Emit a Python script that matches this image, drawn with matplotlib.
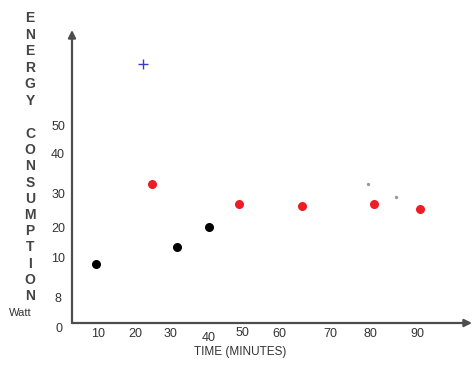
import numpy as np
import matplotlib
matplotlib.use("Agg")
import matplotlib.pyplot as plt

plt.rcParams['font.family'] = ['Liberation Sans', 'DejaVu Sans']

# ---- data ----
black_x = [9.4, 31.6, 40.0]
black_y = [9.7, 13.5, 20.1]
red_x = [24.6, 49.0, 64.6, 80.9, 90.6]
red_y = [32.3, 26.7, 26.3, 26.8, 25.4]
blue_x = [22.1]
blue_y = [70.9]
gray_x = [79.4, 85.6]
gray_y = [32.3, 28.8]

x_ticks = [10, 20, 30, 40, 50, 60, 70, 80, 90]
x_labels = ["10", "20", "30", "40", "50", "60", "70", "80", "90"]
y_ticks = [8, 10, 20, 30, 40, 50]
y_labels = ["8", "10", "20", "30", "40", "50"]
x_title = "TIME (MINUTES)"
y_word1 = "ENERGY"
y_word2 = "CONSUMPTION"
unit_label = "Watt"

# ---- layout (hand-drawn irregular scale anchors, in pixels) ----
W, H = 476, 365
X_ANCHOR_PX = [98, 135, 171, 209, 242, 279, 330, 370, 417]
X_LABEL_DY = [0, 0, 0, 2.5, -1, 0, 0, 0, 0]   # points, downward
Y_ANCHOR_VAL = [0, 8, 10, 20, 30, 40, 50]
Y_ANCHOR_PX = [323, 297, 258, 227, 193, 154, 125]
AX_LEFT, AX_RIGHT, AX_BOTTOM, AX_TOP = 72, 472, 323, 30


def piecewise(xp, fp):
    xp = np.asarray(xp, float)
    fp = np.asarray(fp, float)

    def f(x):
        x = np.asarray(x, float)
        y = np.interp(x, xp, fp)
        y = np.where(x < xp[0], fp[0] + (x - xp[0]) * (fp[1] - fp[0]) / (xp[1] - xp[0]), y)
        y = np.where(x > xp[-1], fp[-1] + (x - xp[-1]) * (fp[-1] - fp[-2]) / (xp[-1] - xp[-2]), y)
        return y
    return f


xf = piecewise(x_ticks, X_ANCHOR_PX)
xi = piecewise(X_ANCHOR_PX, x_ticks)
ypx = [-p for p in Y_ANCHOR_PX]
yf = piecewise(Y_ANCHOR_VAL, ypx)
yi = piecewise(ypx, Y_ANCHOR_VAL)

fig = plt.figure(figsize=(W / 100, H / 100), dpi=100)
ax = fig.add_axes([AX_LEFT / W, (H - AX_BOTTOM) / H,
                   (AX_RIGHT - AX_LEFT) / W, (AX_BOTTOM - AX_TOP) / H])
ax.set_xscale('function', functions=(xf, xi))
ax.set_yscale('function', functions=(yf, yi))
ax.set_xlim(float(xi(AX_LEFT)), float(xi(AX_RIGHT)))
ax.set_ylim(0, float(yi(-AX_TOP)))
for s in ax.spines.values():
    s.set_visible(False)
ax.patch.set_alpha(0)

axis_col = '#4d4d4d'
txt_col = '#333333'
ax.annotate('', xy=(1, 0), xytext=(0, 0), xycoords='axes fraction',
            arrowprops=dict(arrowstyle='-|>', color=axis_col, lw=1.6,
                            mutation_scale=11, shrinkA=0, shrinkB=0),
            annotation_clip=False)
ax.annotate('', xy=(0, 1), xytext=(0, 0), xycoords='axes fraction',
            arrowprops=dict(arrowstyle='-|>', color=axis_col, lw=1.6,
                            mutation_scale=11, shrinkA=0, shrinkB=0),
            annotation_clip=False)

ax.set_xticks(x_ticks, [])
ax.set_yticks(y_ticks, y_labels)
ax.minorticks_off()
ax.tick_params(axis='x', length=0)
ax.tick_params(axis='y', length=0, pad=10, labelsize=9, labelcolor=txt_col)
for lbl in ax.get_yticklabels():
    lbl.set_horizontalalignment('center')

for xv, lab, dy in zip(x_ticks, x_labels, X_LABEL_DY):
    ax.annotate(lab, xy=(xv, 0), xycoords=('data', 'axes fraction'),
                xytext=(0, -(8 + dy)), textcoords='offset points',
                ha='center', va='center', fontsize=9, color=txt_col,
                annotation_clip=False)

ax.annotate('0', xy=(0, 0), xycoords='axes fraction', xytext=(-9, -4),
            textcoords='offset points', ha='center', va='center',
            fontsize=9, color=txt_col, annotation_clip=False)

ax.scatter(black_x, black_y, s=30, color='black', zorder=3, clip_on=False)
ax.scatter(red_x, red_y, s=30, color='#ee1c24', zorder=3, clip_on=False)
ax.scatter(blue_x, blue_y, s=55, marker='+', color='#3a3ad0', linewidths=1.0,
           zorder=3, clip_on=False)
ax.scatter(gray_x, gray_y, s=2, color='#999999', zorder=3, clip_on=False)

fig.text(240 / W, 1 - 352 / H, x_title, ha='center', va='center',
         fontsize=8.5, color=txt_col)
fig.text(20 / W, 1 - 313 / H, unit_label, ha='center', va='center',
         fontsize=8, color=txt_col)

letter_font = dict(ha='center', va='center', fontsize=10, color='#444444',
                   fontweight='bold', fontstretch='condensed',
                   family=['Liberation Sans Narrow', 'Liberation Sans', 'DejaVu Sans'])
for i, ch in enumerate(y_word1):
    fig.text(30 / W, 1 - (18 + i * 16.6) / H, ch, **letter_font)
for i, ch in enumerate(y_word2):
    fig.text(30 / W, 1 - (134 + i * 16.2) / H, ch, **letter_font)

fig.savefig('out.png', dpi=100)
